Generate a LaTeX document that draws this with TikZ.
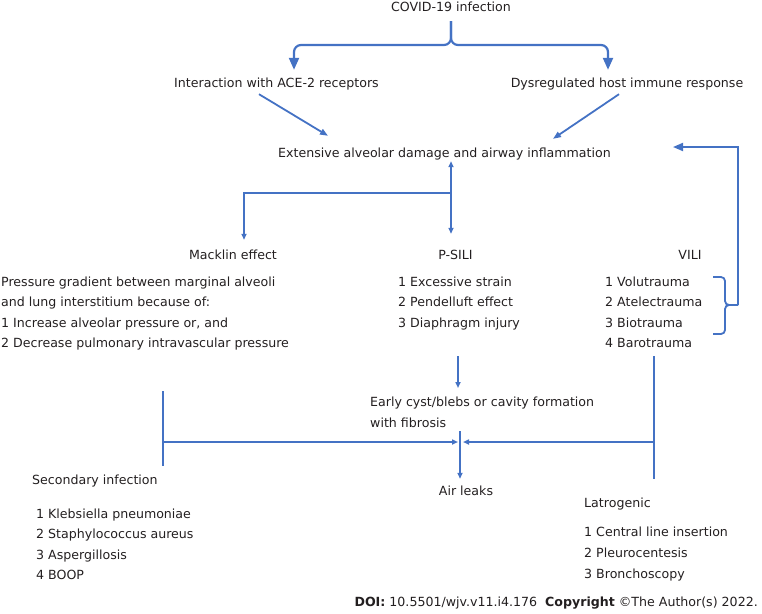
\documentclass[tikz,border=0pt]{standalone}
\usepackage{fontspec}
\setmainfont{DejaVu Sans}
\usetikzlibrary{arrows.meta}
\definecolor{flowblue}{RGB}{68,114,196}
\definecolor{ink}{RGB}{35,31,32}

\begin{document}
\begin{tikzpicture}[x=1pt,y=-1pt,
		every node/.style={inner sep=0pt, text height=1em, text depth=0pt, text=ink, font=\fontsize{12.6}{15}\selectfont},
		link/.style={draw=flowblue, line width=1.8pt},
		bigtip/.style={link, line width=2.2pt, -{Triangle[length=12pt,width=10pt]}},
		midtip/.style={link, -{Triangle[length=8pt,width=6pt]}},
		smalltip/.style={link, -{Triangle[length=6pt,width=5pt]}},
		fbtip/.style={link, -{Triangle[length=10pt,width=8pt]}}]
			\useasboundingbox (0,0) rectangle (762,613);
			% causes
			\node (covid) at (451,7) {COVID-19 infection};
			\node (ace) at (276.5,82) {Interaction with ACE-2 receptors};
			\node (dys) at (627,82) {Dysregulated host immune response};
			\node (ext) at (444.5,152) {Extensive alveolar damage and airway inflammation};
			% mechanisms
			\node (mack) at (233,254) {Macklin effect};
			\node (psili) at (455.5,254) {P-SILI};
			\node (vili) at (690,254) {VILI};
			\node[right] (mk1) at (1,281) {Pressure gradient between marginal alveoli};
			\node[right] (mk2) at (1,301.5) {and lung interstitium because of:};
			\node[right] (mk3) at (1,322) {1 Increase alveolar pressure or, and};
			\node[right] (mk4) at (1,342.5) {2 Decrease pulmonary intravascular pressure};
			\node[right] (ps1) at (398,281) {1 Excessive strain};
			\node[right] (ps2) at (398,301.5) {2 Pendelluft effect};
			\node[right] (ps3) at (398,322) {3 Diaphragm injury};
			\node[right] (vi1) at (605,281) {1 Volutrauma};
			\node[right] (vi2) at (605,301.5) {2 Atelectrauma};
			\node[right] (vi3) at (605,322) {3 Biotrauma};
			\node[right] (vi4) at (605,342.5) {4 Barotrauma};
			% outcome
			\node[right] (cyst) at (370,401) {Early cyst/blebs or cavity formation};
			\node[right] (cyst2) at (370,422) {with fibrosis};
			\node (leak) at (466,490) {Air leaks};
			\node[right] (sec) at (32,479) {Secondary infection};
			\node[right] (sec1) at (36,513) {1 Klebsiella pneumoniae};
			\node[right] (sec2) at (36,533.5) {2 Staphylococcus aureus};
			\node[right] (sec3) at (36,554) {3 Aspergillosis};
			\node[right] (sec4) at (36,574.5) {4 BOOP};
			\node[right] (iat) at (584,502) {Latrogenic};
			\node[right] (iat1) at (584,531) {1 Central line insertion};
			\node[right] (iat2) at (584,552) {2 Pleurocentesis};
			\node[right] (iat3) at (584,573) {3 Bronchoscopy};
			\node[left] (doi) at (758,601) {\textbf{DOI:} 10.5501/wjv.v11.i4.176\ \ \textbf{Copyright} ©The Author(s) 2022.};
			% brace from the infection
			\coordinate (split) at (451,21);
			\draw[bigtip, rounded corners=7pt] (split) |- (294,45) -- ([shift={(17.5,-7)}]ace.north);
			\draw[bigtip, rounded corners=7pt] (split) |- (608,45) -- ([shift={(-19,-7)}]dys.north);
			\draw[midtip] ([shift={(-17.5,7)}]ace.south) -- ([shift={(-116.5,-11)}]ext.north);
			\draw[midtip] ([shift={(-8,7)}]dys.south) -- ([shift={(108.5,-8)}]ext.north);
			% split of the damage
			\draw[link, {Triangle[length=6pt,width=5pt]}-{Triangle[length=6pt,width=5pt]}] ([shift={(6.5,4)}]ext.south) -- ([shift={(-4.5,-15)}]psili.north);
			\coordinate (fork) at (451,193);
			\draw[smalltip] (fork) -| ([shift={(11,-9)}]mack.north);
			% VILI bracket back to the damage
			\coordinate (vtip) at (738,305);
			\draw[link, rounded corners=4pt] (713,277) -- (725,277) -- (725,305) -- (vtip);
			\draw[link, rounded corners=4pt] (713,334) -- (725,334) -- (725,305) -- (vtip);
			\draw[fbtip] (vtip) |- ([shift={(228.5,-5)}]ext.center);
			% to the air leaks
			\draw[smalltip] ([shift={(60,34)}]ps3.west) -- ([shift={(88,-13)}]cyst.west);
			\coordinate (junc) at (460,442);
			\coordinate (lbar) at (163,442);
			\coordinate (rbar) at (654,442);
			\draw[link] (lbar) ++(0,-51) -- ++(0,75);
			\draw[link] (rbar) ++(0,-86) -- ++(0,123);
			\draw[smalltip] (lbar) -- ([xshift=-2pt]junc);
			\draw[smalltip] (rbar) -- ([xshift=3pt]junc);
			\draw[smalltip] ([shift={(90,9)}]cyst2.west) -- ([shift={(-6,-6)}]leak.north);
		\end{tikzpicture}
\end{document}
